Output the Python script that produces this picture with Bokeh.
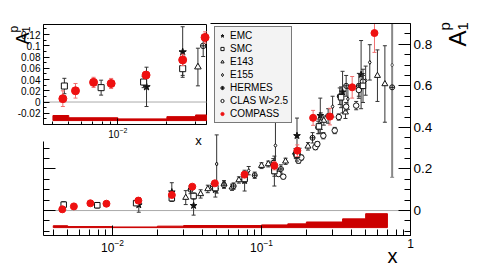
import numpy as np
from math import pi
from bokeh.plotting import figure
from bokeh.models import (ColumnDataSource, LinearAxis, LogAxis, Label, Legend, LegendItem,
                          SingleIntervalTicker, FixedTicker, LogTickFormatter,
                          CustomJSTickFormatter, Range1d, LogScale)
from bokeh.embed import file_html
from bokeh.resources import INLINE

FONT = "Liberation Sans"

# ---------------- data ----------------
compass_x = [0.0046, 0.0055, 0.0071, 0.0091, 0.0149, 0.025, 0.0343, 0.0486, 0.0769, 0.122, 0.174, 0.222, 0.288, 0.406, 0.573]
compass_y = [0.006, 0.020, 0.035, 0.033, 0.048, 0.075, 0.115, 0.131, 0.173, 0.216, 0.288, 0.446, 0.452, 0.593, 0.854]
compass_err = [0.014, 0.013, 0.009, 0.009, 0.006, 0.010, 0.010, 0.012, 0.015, 0.020, 0.028, 0.036, 0.040, 0.052, 0.093]

syst_left = [0.004, 0.005, 0.01, 0.02, 0.03, 0.06, 0.1, 0.15, 0.2, 0.35, 0.5]
syst_right = [0.005, 0.01, 0.02, 0.03, 0.06, 0.1, 0.15, 0.2, 0.35, 0.5, 0.7]
syst_height = [0.009, 0.005, 0.003, 0.007, 0.010, 0.010, 0.013, 0.018, 0.027, 0.042, 0.067]

emc_x = [0.015, 0.025, 0.035, 0.049, 0.077, 0.122, 0.173, 0.248, 0.35, 0.466]
emc_y = [0.027, 0.089, 0.024, 0.100, 0.144, 0.190, 0.360, 0.457, 0.570, 0.654]
emc_err = [0.035, 0.045, 0.046, 0.035, 0.050, 0.072, 0.085, 0.084, 0.100, 0.164]

smc_x = [0.0047, 0.0079, 0.0144, 0.025, 0.035, 0.049, 0.077, 0.122, 0.173, 0.243, 0.342, 0.48]
smc_y = [0.0285, 0.0256, 0.0356, 0.0594, 0.070, 0.108, 0.152, 0.190, 0.268, 0.405, 0.545, 0.600]
smc_err = [0.0137, 0.0133, 0.010, 0.012, 0.015, 0.015, 0.020, 0.025, 0.030, 0.035, 0.050, 0.080]

e143_x = [0.031, 0.039, 0.0436, 0.056, 0.0634, 0.0705, 0.1, 0.111, 0.145, 0.169, 0.205, 0.262, 0.366, 0.60, 0.673]
e143_y = [0.0623, 0.080, 0.104, 0.128, 0.112, 0.147, 0.216, 0.224, 0.237, 0.280, 0.309, 0.433, 0.473, 0.649, 0.609]
e143_err = [0.0335, 0.020, 0.018, 0.016, 0.015, 0.015, 0.014, 0.014, 0.015, 0.018, 0.018, 0.022, 0.030, 0.124, 0.184]

e155_x = [0.05, 0.082, 0.124, 0.18, 0.25, 0.30, 0.38, 0.50, 0.533]
e155_y = [0.224, 0.192, 0.313, 0.270, 0.430, 0.500, 0.537, 0.625, 0.713]
e155_err = [0.140, 0.020, 0.120, 0.030, 0.040, 0.050, 0.050, 0.070, 0.085]
e155_highx_x = [0.753]
e155_highx_y = [0.700]
e155_highx_err = [0.540]

hermes_x = [0.0334, 0.047, 0.056, 0.065, 0.077, 0.09, 0.12, 0.135, 0.17, 0.178, 0.22, 0.24, 0.28, 0.335, 0.37, 0.45, 0.753]
hermes_y = [0.100, 0.115, 0.122, 0.118, 0.165, 0.170, 0.230, 0.200, 0.270, 0.250, 0.350, 0.400, 0.455, 0.550, 0.600, 0.600, 0.593]
hermes_err = [0.019, 0.015, 0.015, 0.015, 0.015, 0.015, 0.020, 0.020, 0.020, 0.020, 0.025, 0.030, 0.035, 0.040, 0.050, 0.060, 0.005]

clas_x = [0.13, 0.14, 0.177, 0.185, 0.23, 0.237, 0.26, 0.31, 0.33, 0.37, 0.432, 0.45, 0.48]
clas_y = [0.176, 0.163, 0.240, 0.255, 0.305, 0.320, 0.360, 0.385, 0.450, 0.500, 0.505, 0.580, 0.620]
clas_err = [0.010, 0.010, 0.012, 0.012, 0.012, 0.012, 0.015, 0.015, 0.015, 0.020, 0.020, 0.030, 0.030]

legend_labels = ["EMC", "SMC", "E143", "E155", "HERMES", "CLAS W>2.5", "COMPASS"]

# axis ranges and inset ticks
main_x_range = (0.00344, 1.0)
main_y_range = (-0.12, 0.9)
inset_x_range = (0.0035, 0.035)
inset_y_range = (-0.04, 0.138)
inset_major_ticks = [0.01]
inset_minor_ticks = [0.004, 0.005, 0.006, 0.007, 0.008, 0.009, 0.02, 0.03]

# ---------------- layout constants (pixels on the canvas) ----------------
W, H = 479, 265
MAIN_BOX = (43, 410, 23, 235)     # left, right, top, bottom
INSET_BOX = (43, 206, 24, 124)
MAIN_BAND_BASE = -0.082
INSET_BAND_BASE = -0.033

RED = "#ee1111"
RED_BAR = "#f07070"
BAND = "#cc0000"
BLACK = "#111111"
BAR = "#333333"

fmt_code = """
if (Math.abs(tick) < 1e-9) { return "0"; }
return String(parseFloat(tick.toPrecision(6)));
"""


def canvas_range(rng, box, log):
    """Range spanning the whole canvas so that rng maps onto the given pixel box."""
    l, r, t, b = box
    if log:
        a0, a1 = np.log10(rng[0]), np.log10(rng[1])
        k = (a1 - a0) / (r - l)
        return Range1d(10 ** (a0 - l * k), 10 ** (a1 + (W - r) * k))
    k = (rng[1] - rng[0]) / (b - t)
    return Range1d(rng[0] - (H - b) * k, rng[1] + t * k)


def style_axis(ax, major_in, minor_in, font_size):
    ax.major_tick_in = major_in
    ax.major_tick_out = 0
    ax.minor_tick_in = minor_in
    ax.minor_tick_out = 0
    ax.axis_line_color = "black"
    ax.major_tick_line_color = "black"
    ax.minor_tick_line_color = "black"
    ax.major_label_text_font = FONT
    ax.major_label_text_font_size = font_size
    ax.major_label_text_color = "black"


xr = canvas_range(main_x_range, MAIN_BOX, True)
yr_ = canvas_range(main_y_range, MAIN_BOX, False)
main = figure(width=W, height=H, x_axis_type="log", x_range=xr, y_range=yr_,
              output_backend="svg", toolbar_location=None, min_border=0,
              min_border_left=0, min_border_right=0, min_border_top=0, min_border_bottom=0,
              background_fill_color="white", border_fill_color="white", outline_line_color=None)
main.grid.visible = False
main.extra_x_ranges = {"inset": canvas_range(inset_x_range, INSET_BOX, True)}
main.extra_x_scales = {"inset": LogScale()}
main.extra_y_ranges = {"inset": canvas_range(inset_y_range, INSET_BOX, False)}
IK = dict(x_range_name="inset", y_range_name="inset")


def add_points(xs, ys, es, marker, size, line_color, fill_color, bar_color, bar_width=1, inset=False):
    x = np.asarray(xs, float)
    y = np.asarray(ys, float)
    e = np.asarray(es, float)
    kw = {}
    top = main_y_range[1]
    if inset:
        m = x < inset_x_range[1]
        x, y, e = x[m], y[m], e[m]
        kw = IK
        top = inset_y_range[1]
    hi = np.minimum(y + e, top)
    cap_hi = np.where(y + e > top, np.nan, y + e)
    src = ColumnDataSource(dict(x=x, y=y, lo=y - e, hi=hi, cap_hi=cap_hi))
    main.segment(x0="x", y0="lo", x1="x", y1="hi", source=src, line_color=bar_color, line_width=bar_width, **kw)
    main.scatter(x="x", y="cap_hi", source=src, marker="dash", size=4, line_color=bar_color, line_width=1, **kw)
    main.scatter(x="x", y="lo", source=src, marker="dash", size=4, line_color=bar_color, line_width=1, **kw)
    return main.scatter(x="x", y="y", source=src, marker=marker, size=size,
                        line_color=line_color, fill_color=fill_color, line_width=1, **kw)


def draw_sets(scale, compass_size, inset):
    rs = {}
    add_points(e155_highx_x, e155_highx_y, e155_highx_err, "diamond", 4, "#555555", "white", "#888888",
               bar_width=2, inset=inset)
    rs["EMC"] = add_points(emc_x, emc_y, emc_err, "star", 7 * scale, BLACK, BLACK, BAR, inset=inset)
    rs["E143"] = add_points(e143_x, e143_y, e143_err, "triangle", 6 * scale, BLACK, "white", BAR, inset=inset)
    rs["E155"] = add_points(e155_x, e155_y, e155_err, "diamond", 4 * scale, BLACK, "white", BAR, inset=inset)
    rs["HERMES"] = add_points(hermes_x, hermes_y, hermes_err, "circle_cross", 5 * scale, BLACK, "white", BAR, inset=inset)
    rs["CLAS W>2.5"] = add_points(clas_x, clas_y, clas_err, "circle", 5.5 * scale, BLACK, "white", BAR, inset=inset)
    rs["SMC"] = add_points(smc_x, smc_y, smc_err, "square", 5.5 * scale, BLACK, "white", BAR, inset=inset)
    rs["COMPASS"] = add_points(compass_x, compass_y, compass_err, "circle", compass_size, RED, RED, RED_BAR, inset=inset)
    return rs


# ---------------- main plot content ----------------
main.segment(x0=main_x_range[0], y0=0, x1=main_x_range[1], y1=0, line_color="#aaaaaa", line_width=1)
main.quad(left=syst_left, right=syst_right, bottom=MAIN_BAND_BASE,
          top=[MAIN_BAND_BASE + h for h in syst_height], fill_color=BAND, line_color=BAND)
rs_main = draw_sets(1.0, 7, inset=False)

# ---------------- inset content ----------------
main.quad(left=inset_x_range[0], right=inset_x_range[1], bottom=inset_y_range[0], top=inset_y_range[1],
          fill_color="white", line_color="black", line_width=1, **IK)
main.segment(x0=inset_x_range[0], y0=0, x1=inset_x_range[1], y1=0, line_color="#aaaaaa", line_width=1, **IK)
il_ = [l for l in syst_left if l < inset_x_range[1]]
ir_ = [min(r, inset_x_range[1]) for l, r in zip(syst_left, syst_right) if l < inset_x_range[1]]
ih_ = [h for l, h in zip(syst_left, syst_height) if l < inset_x_range[1]]
main.quad(left=il_, right=ir_, bottom=INSET_BAND_BASE, top=[INSET_BAND_BASE + h for h in ih_],
          fill_color=BAND, line_color=BAND, **IK)
draw_sets(1.1, 8, inset=True)

# ---------------- axes (drawn at fixed locations) ----------------
xb = main.xaxis[0]
xb.fixed_location = main_y_range[0]
xb.bounds = main_x_range
style_axis(xb, 10, 6, "12px")
xb.major_label_standoff = 3
xb.major_label_overrides = {1: "1"}

yl = main.yaxis[0]
yl.fixed_location = main_x_range[0]
yl.ticker = SingleIntervalTicker(interval=0.2, num_minor_ticks=4)
yl.formatter = CustomJSTickFormatter(code='return "";')
yl.bounds = (main_y_range[0], 0.33)
style_axis(yl, 12, 6, "1px")

yrt = LinearAxis(ticker=SingleIntervalTicker(interval=0.2, num_minor_ticks=4),
                 formatter=CustomJSTickFormatter(code=fmt_code),
                 fixed_location=main_x_range[1], bounds=main_y_range)
style_axis(yrt, 12, 6, "13.5px")
yrt.major_label_standoff = 3
main.add_layout(yrt, "right")

xt = LogAxis(formatter=CustomJSTickFormatter(code='return "";'), fixed_location=main_y_range[1],
             bounds=(0.0454, main_x_range[1]))
style_axis(xt, 0, 0, "1px")
main.add_layout(xt, "above")

iy = LinearAxis(ticker=SingleIntervalTicker(interval=0.02, num_minor_ticks=2),
                formatter=CustomJSTickFormatter(code=fmt_code),
                fixed_location=inset_x_range[0], bounds=(-0.039, inset_y_range[1]), **IK)
style_axis(iy, 6, 3, "10px")
iy.major_label_standoff = 3
main.add_layout(iy, "left")

ix = LogAxis(ticker=FixedTicker(ticks=inset_major_ticks, minor_ticks=inset_minor_ticks),
             formatter=LogTickFormatter(),
             fixed_location=inset_y_range[0], bounds=inset_x_range, **IK)
style_axis(ix, 6, 3, "10px")
ix.major_label_standoff = 2
main.add_layout(ix, "below")

# ---------------- legend ----------------
legend = Legend(items=[LegendItem(label=l, renderers=[rs_main[l]]) for l in legend_labels],
                location=(214, H - 123), orientation="vertical",
                label_text_font=FONT, label_text_font_size="10px", label_text_color="black",
                glyph_width=8, glyph_height=11, label_height=11, spacing=2, padding=3, margin=0,
                label_standoff=4, border_line_color="black", border_line_width=1,
                background_fill_color="#f3f3f3", background_fill_alpha=1.0)
main.add_layout(legend)


# ---------------- titles (canvas pixel positions, y measured from bottom) ----------------
def lab(px, py, text, size, angle=0.0, align="left", baseline="alphabetic"):
    main.add_layout(Label(x=px, y=H - py, x_units="screen", y_units="screen", text=text, angle=angle,
                          text_font=FONT, text_font_size=size, text_align=align,
                          text_baseline=baseline, text_color="black"))


lab(392, 255, "x", "20px", align="center")                          # main x title
lab(198, 140, "x", "13px", align="center")                          # inset x title
lab(457, 46, "A", "24px", angle=pi / 2)                             # main y title
lab(444, 30, "p", "15px", angle=pi / 2)
lab(462, 30, "1", "15px", angle=pi / 2)
lab(22, 44, "A", "18px", angle=pi / 2)                              # inset y title
lab(13, 32, "p", "12px", angle=pi / 2)
lab(25, 32, "1", "11px", angle=pi / 2)

open("out.html", "w").write(file_html(main, INLINE))
